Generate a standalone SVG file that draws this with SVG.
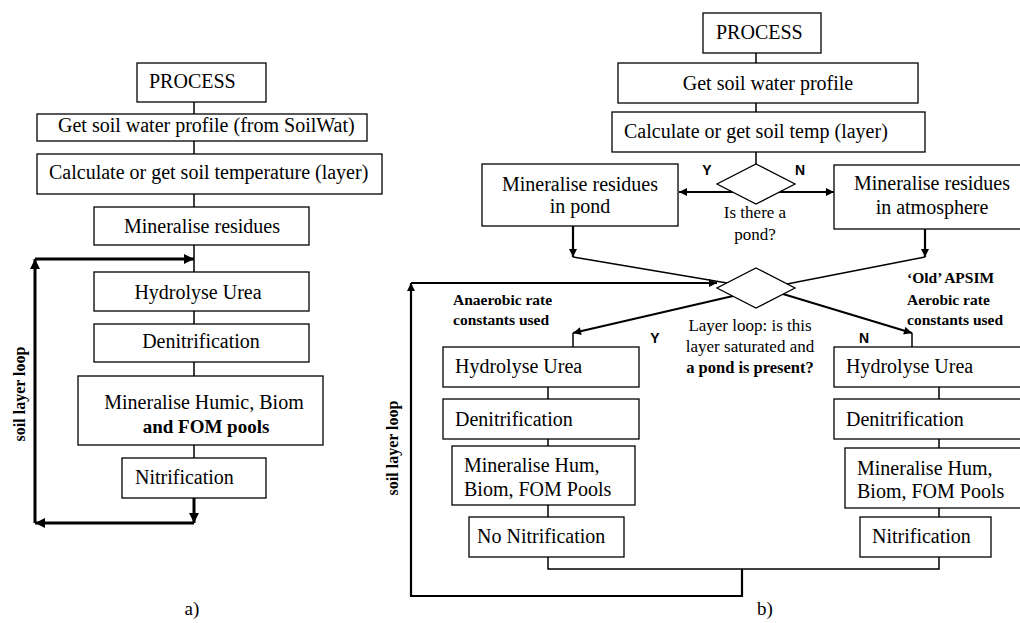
<svg xmlns="http://www.w3.org/2000/svg" width="1020" height="623" viewBox="0 0 1020 623">
<style>
.box{fill:#fff;stroke:#000;stroke-width:1.3}
.t{font-family:"Liberation Serif","Times New Roman",serif;font-size:20px;fill:#000}
.tc{text-anchor:middle}
.b{font-weight:bold}
.lab{font-family:"Liberation Serif","Times New Roman",serif;font-size:15.5px;font-weight:bold;fill:#000}
.q{font-family:"Liberation Serif","Times New Roman",serif;font-size:17px;fill:#000;text-anchor:middle}
.yn{font-family:"Liberation Sans",Arial,sans-serif;font-size:14px;font-weight:bold;fill:#000;text-anchor:middle}
.ln{fill:none;stroke:#000;stroke-width:1.5}
.thick{fill:none;stroke:#000;stroke-width:3}
.med{fill:none;stroke:#000;stroke-width:2.2}
</style>
<defs>
<marker id="ahL" viewBox="0 0 10 10" refX="10" refY="5" markerWidth="11" markerHeight="10" orient="auto" markerUnits="userSpaceOnUse"><path d="M0,0 L10,5 L0,10 z" fill="#000"/></marker>
<marker id="ah" viewBox="0 0 10 10" refX="10" refY="5" markerWidth="9" markerHeight="8" orient="auto" markerUnits="userSpaceOnUse"><path d="M0,0 L10,5 L0,10 z" fill="#000"/></marker>
</defs>
<rect width="1020" height="623" fill="#fff"/>

<g id="connectors">
<!-- left diagram -->
<path class="ln" d="M194,102 V114 M194,141 V154 M194,194 V207 M194,245 V272 M194,311 V324 M194,362 V376 M194,445 V458"/>
<path class="thick" d="M35,259 H194" marker-end="url(#ahL)"/>
<path class="thick" d="M35,523 V259" marker-end="url(#ahL)"/>
<path class="thick" d="M194,498 V523" marker-end="url(#ahL)"/>
<path class="thick" d="M194,523 H35" marker-end="url(#ahL)"/>
<!-- right diagram -->
<path class="ln" d="M756,53 V63 M756,103 V112 M756,152 V164"/>
<path class="med" d="M733,192 H679" marker-end="url(#ah)"/>
<path class="med" d="M779,192 H834" marker-end="url(#ah)"/>
<path class="med" d="M573,226 V257" marker-end="url(#ah)"/>
<path class="med" d="M925,229 V257" marker-end="url(#ah)"/>
<path class="ln" d="M573,257 L727,283"/>
<path class="ln" d="M925,257 L787,284"/>
<path class="med" d="M733,296 L573,333" marker-end="url(#ah)"/>
<path class="ln" d="M573,333 V347"/>
<path class="med" d="M783,294 L912,333" marker-end="url(#ah)"/>
<path class="ln" d="M912,333 V347"/>
<path class="ln" d="M548,387 V399 M548,439 V446 M548,505 V517 M939,387 V399 M939,439 V448 M939,508 V517"/>
<path class="ln" d="M548,557 V569 H939 V557"/>
<path class="med" d="M742,569 V596 H411 V283" marker-end="url(#ah)"/>
<path class="med" d="M411,283 H717" marker-end="url(#ah)"/>
</g>

<!-- left diagram nodes -->
<g id="a-process"><rect class="box" x="137" y="63" width="129" height="39"/><text class="t" x="149" y="88">PROCESS</text></g>
<g id="a-water"><rect class="box" x="37" y="114" width="330" height="27"/><text class="t" x="58" y="132">Get soil water profile (from SoilWat)</text></g>
<g id="a-temp"><rect class="box" x="37" y="154" width="345" height="40"/><text class="t" x="49" y="179">Calculate or get soil temperature (layer)</text></g>
<g id="a-resid"><rect class="box" x="94" y="207" width="215" height="38"/><text class="t tc" x="202" y="233">Mineralise residues</text></g>
<g id="a-urea"><rect class="box" x="94" y="272" width="215" height="39"/><text class="t tc" x="198" y="299">Hydrolyse Urea</text></g>
<g id="a-denit"><rect class="box" x="94" y="324" width="215" height="38"/><text class="t tc" x="201" y="348">Denitrification</text></g>
<g id="a-humic"><rect class="box" x="78" y="376" width="245" height="69"/><text class="t tc" x="204" y="409">Mineralise Humic, Biom</text><text class="t tc b" x="206" y="433" style="font-size:19px">and FOM pools</text></g>
<g id="a-nitri"><rect class="box" x="122" y="458" width="144" height="40"/><text class="t" x="135" y="484">Nitrification</text></g>
<g id="a-looplabel"><text class="lab" transform="translate(25,394) rotate(-90)" text-anchor="middle" style="font-size:16px">soil layer loop</text></g>
<g id="a-caption"><text class="t tc" x="192" y="615" style="font-size:19px">a)</text></g>

<!-- right diagram nodes -->
<g id="b-process"><rect class="box" x="703" y="13" width="118" height="40"/><text class="t" x="716" y="39">PROCESS</text></g>
<g id="b-water"><rect class="box" x="618" y="63" width="300" height="40"/><text class="t tc" x="768" y="90">Get soil water profile</text></g>
<g id="b-temp"><rect class="box" x="612" y="112" width="313" height="40"/><text class="t" x="624" y="138">Calculate or get soil temp (layer)</text></g>
<g id="b-pond-q"><polygon points="756,164 795,184 756,204 717,184" fill="#fff" stroke="#000" stroke-width="1.3"/><text class="q" x="755" y="218">Is there a</text><text class="q" x="755" y="240">pond?</text><text class="yn" x="707" y="175">Y</text><text class="yn" x="800" y="175">N</text></g>
<g id="b-resid-pond"><rect class="box" x="482" y="164" width="196" height="62"/><text class="t tc" x="580" y="191">Mineralise residues</text><text class="t tc" x="580" y="213">in pond</text></g>
<g id="b-resid-atm"><rect class="box" x="834" y="165" width="196" height="64"/><text class="t tc" x="932" y="190">Mineralise residues</text><text class="t tc" x="932" y="214">in atmosphere</text></g>
<g id="b-layer-q"><polygon points="756,268 795,288 756,308 717,288" fill="#fff" stroke="#000" stroke-width="1.3"/><text class="q" x="750" y="331">Layer loop: is this</text><text class="q" x="750" y="352">layer saturated and</text><text class="q b" x="750" y="373" style="font-size:16.5px">a pond is present?</text><text class="yn" x="655" y="343">Y</text><text class="yn" x="864" y="343">N</text></g>
<g id="b-anaerobic"><text class="lab" x="453" y="305">Anaerobic rate</text><text class="lab" x="453" y="325">constants used</text></g>
<g id="b-aerobic"><text class="lab" x="907" y="283">‘Old’ APSIM</text><text class="lab" x="907" y="305">Aerobic rate</text><text class="lab" x="907" y="325">constants used</text></g>
<g id="b-urea-y"><rect class="box" x="443" y="347" width="196" height="40"/><text class="t" x="455" y="373">Hydrolyse Urea</text></g>
<g id="b-denit-y"><rect class="box" x="443" y="399" width="196" height="40"/><text class="t" x="455" y="426">Denitrification</text></g>
<g id="b-hum-y"><rect class="box" x="452" y="446" width="183" height="59"/><text class="t" x="464" y="472">Mineralise Hum,</text><text class="t" x="464" y="496">Biom, FOM Pools</text></g>
<g id="b-nonit"><rect class="box" x="469" y="517" width="155" height="40"/><text class="t" x="477" y="543">No Nitrification</text></g>
<g id="b-urea-n"><rect class="box" x="834" y="347" width="196" height="40"/><text class="t" x="846" y="373">Hydrolyse Urea</text></g>
<g id="b-denit-n"><rect class="box" x="834" y="399" width="196" height="40"/><text class="t" x="846" y="426">Denitrification</text></g>
<g id="b-hum-n"><rect class="box" x="845" y="448" width="185" height="60"/><text class="t" x="857" y="475">Mineralise Hum,</text><text class="t" x="857" y="498">Biom, FOM Pools</text></g>
<g id="b-nit"><rect class="box" x="860" y="517" width="131" height="40"/><text class="t" x="872" y="543">Nitrification</text></g>
<g id="b-looplabel"><text class="lab" transform="translate(398,448) rotate(-90)" text-anchor="middle" style="font-size:16px">soil layer loop</text></g>
<g id="b-caption"><text class="t tc" x="765" y="615" style="font-size:19px">b)</text></g>
</svg>
